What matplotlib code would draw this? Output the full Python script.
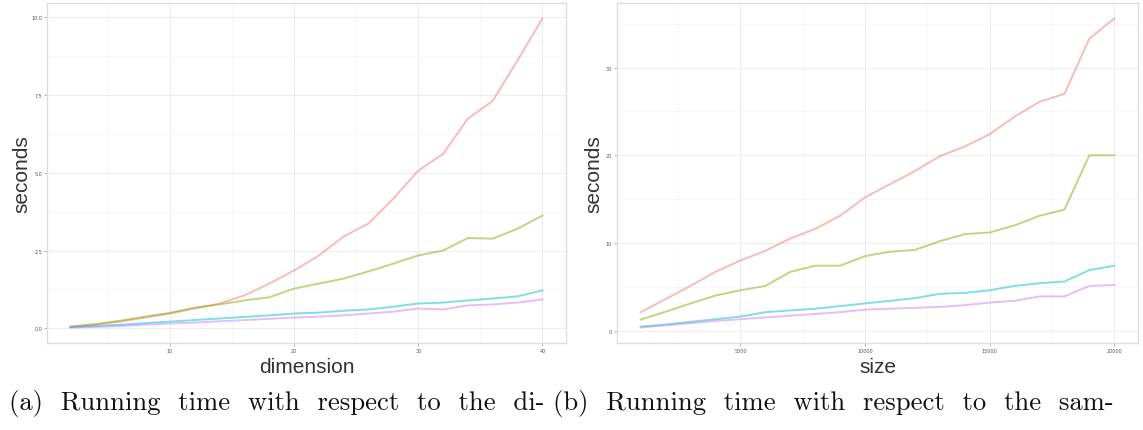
import numpy as np
import matplotlib
matplotlib.use('Agg')
import matplotlib.pyplot as plt
from matplotlib.ticker import MultipleLocator

# panel (a): running time vs dimension
dimension = [2, 4, 6, 8, 10, 12, 14, 16, 18, 20, 22, 24, 26, 28, 30, 32, 34, 36, 38, 40]
dim_red = [0.05, 0.12, 0.22, 0.35, 0.48, 0.64, 0.80, 1.06, 1.44, 1.86, 2.34, 2.95, 3.37, 4.17, 5.06, 5.60, 6.73, 7.30, 8.60, 9.94]
dim_green = [0.06, 0.14, 0.25, 0.38, 0.50, 0.67, 0.77, 0.90, 1.00, 1.28, 1.44, 1.60, 1.83, 2.08, 2.34, 2.50, 2.90, 2.88, 3.20, 3.62]
dim_cyan = [0.04, 0.08, 0.12, 0.17, 0.22, 0.27, 0.32, 0.37, 0.42, 0.48, 0.51, 0.57, 0.61, 0.70, 0.80, 0.83, 0.90, 0.96, 1.03, 1.22]
dim_purple = [0.03, 0.05, 0.08, 0.12, 0.16, 0.19, 0.23, 0.27, 0.31, 0.35, 0.38, 0.42, 0.48, 0.54, 0.64, 0.61, 0.74, 0.77, 0.83, 0.93]

# panel (b): running time vs sample size
size = [1000, 2000, 3000, 4000, 5000, 6000, 7000, 8000, 9000, 10000,
        11000, 12000, 13000, 14000, 15000, 16000, 17000, 18000, 19000, 20000]
size_red = [2.1, 3.6, 5.1, 6.7, 8.0, 9.1, 10.5, 11.6, 13.1, 15.2, 16.7, 18.2, 19.9, 21.0, 22.4, 24.4, 26.1, 27.0, 33.3, 35.6]
size_green = [1.25, 2.15, 3.1, 4.0, 4.6, 5.1, 6.7, 7.4, 7.4, 8.5, 9.0, 9.2, 10.2, 11.0, 11.2, 12.0, 13.1, 13.8, 20.0, 20.0]
size_cyan = [0.45, 0.7, 1.0, 1.3, 1.6, 2.1, 2.3, 2.5, 2.8, 3.1, 3.4, 3.7, 4.2, 4.3, 4.6, 5.1, 5.4, 5.6, 6.9, 7.4]
size_purple = [0.35, 0.6, 0.85, 1.1, 1.3, 1.5, 1.7, 1.9, 2.1, 2.4, 2.5, 2.6, 2.7, 2.9, 3.2, 3.4, 3.9, 3.9, 5.1, 5.2]

colors = ['#F8766D', '#7CAE00', '#00BFC4', '#C77CFF']

fig = plt.figure(figsize=(11.43, 4.31), dpi=100)
ax1 = fig.add_axes([47 / 1143, 87 / 431, 519 / 1143, 340 / 431])
ax2 = fig.add_axes([617 / 1143, 87 / 431, 521 / 1143, 340 / 431])


def style(ax, x, series, xlabel, xmaj, ymaj):
    for s, c in zip(series, colors):
        ax.plot(x, s, color=c, lw=1.4, alpha=0.5, zorder=3)
    ax.xaxis.set_major_locator(MultipleLocator(xmaj))
    ax.xaxis.set_minor_locator(MultipleLocator(xmaj / 2))
    ax.yaxis.set_major_locator(MultipleLocator(ymaj))
    ax.yaxis.set_minor_locator(MultipleLocator(ymaj / 2))
    ax.grid(which='major', color='#EDEDED', lw=0.8, zorder=0)
    ax.grid(which='minor', color='#F6F6F6', lw=0.6, zorder=0)
    ax.tick_params(which='major', labelsize=3.5, labelcolor='#555555', color='#AAAAAA',
                   length=2.5, width=0.6, pad=1)
    ax.tick_params(which='minor', length=0)
    for sp in ax.spines.values():
        sp.set_color('#DDDDDD')
        sp.set_linewidth(1.0)
    ax.set_xlabel(xlabel, fontsize=15, color='#333333', family='Liberation Sans', labelpad=3)
    ax.set_ylabel('seconds', fontsize=15, color='#333333', family='Liberation Sans', labelpad=0)
    xr = max(x) - min(x)
    ax.set_xlim(min(x) - 0.05 * xr, max(x) + 0.05 * xr)
    lo = min(min(s) for s in series)
    hi = max(max(s) for s in series)
    yr = hi - lo
    ax.set_ylim(lo - 0.05 * yr, hi + 0.05 * yr)


style(ax1, dimension, [dim_red, dim_green, dim_cyan, dim_purple], 'dimension', 10, 2.5)
ax1.yaxis.set_major_formatter(matplotlib.ticker.FormatStrFormatter('%.1f'))
style(ax2, size, [size_red, size_green, size_cyan, size_purple], 'size', 5000, 10)
ax2.xaxis.set_minor_locator(MultipleLocator(2500))
ax2.yaxis.labelpad = 2

fig.text(9 / 1143, 21 / 431, '(a)  Running  time  with  respect  to  the  di-',
         fontsize=19.2, family='cmr10', color='#111111', va='baseline')
fig.text(553 / 1143, 21 / 431, '(b)  Running  time  with  respect  to  the  sam-',
         fontsize=19.2, family='cmr10', color='#111111', va='baseline')

fig.savefig('out.png', dpi=100)
